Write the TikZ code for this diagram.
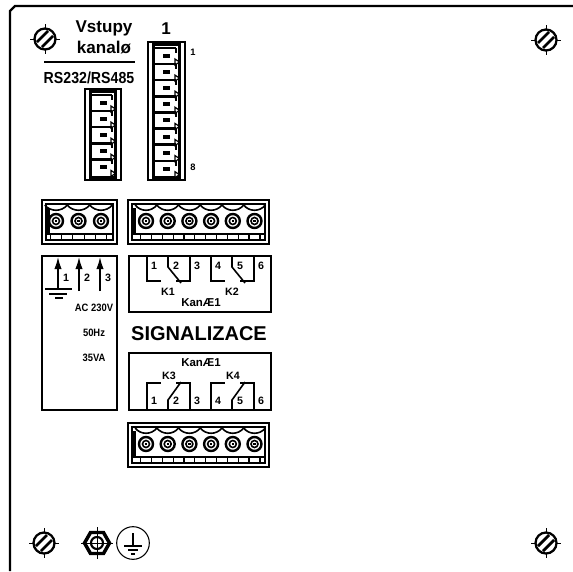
\documentclass[tikz,border=0pt]{standalone}
\usepackage{fontspec}
\setmainfont{Liberation Sans}
\usetikzlibrary{arrows.meta,positioning}

% screw head with slot
\newcommand{\screw}[2]{%
  \begin{scope}[shift={(#1,#2)}]
    \draw[thin line] (-15,0) -- (15,0) (0,-15) -- (0,15);
    \fill[white] (0,0) circle (10);
    \draw[line width=1.7pt] (0,0) circle (10.5);
    \draw[line width=2.1pt] (-8,3) -- (3,-8) (-3,8) -- (8,-3);
  \end{scope}}

% horizontal terminal block: x, y, width, first, pitch, last index
\newcommand{\hblock}[6]{%
  \begin{scope}[shift={(#1,#2)}]
    \draw[thick line] (0,0) rectangle (#3,44);
    \draw[mid line] (4,4) rectangle ({#3-4},40);
    \draw[mid line] (4,34) -- ({#3-4},34);
    \fill (4,8) rectangle (8,34);
    \foreach \i in {0,...,#6} {
      \pgfmathsetmacro{\cx}{#4+\i*#5}
      \draw[line width=1.2pt] ({\cx-#5/2},5) .. controls ({\cx-#5/4},12) and ({\cx+#5/4},12) .. ({\cx+#5/2},5);
      \draw[line width=1.8pt] (\cx,21) circle (7);
      \draw[line width=1.2pt] (\cx,21) circle (3.5);
      \fill (\cx-1.2,19.8) rectangle (\cx+1.2,22.2);
      \draw[mid line] ({\cx-#5/4},34) -- ({\cx-#5/4},40) ({\cx+#5/4},34) -- ({\cx+#5/4},40);
    }
  \end{scope}}

% vertical terminal block: x, y, width, height, first centre, last index
\newcommand{\vblock}[6]{%
  \begin{scope}[shift={(#1,#2)}]
    \draw[thick line] (0,0) rectangle (#3,#4);
    \draw[thick line] (5.5,2.5) rectangle ({#3-5.5},{#4-2.5});
    \foreach \i in {0,...,#6} {
      \pgfmathsetmacro{\cy}{#5+\i*16.1}
      \draw[line width=1.8pt] (6,{\cy-8}) -- ({#3-9},{\cy-8});
      \draw[line width=1.8pt] ({#3-9},{\cy-8}) -- ({#3-9},{\cy-3});
      \fill ({#3/2-3.5},\cy-2) rectangle ({#3/2+3.5},\cy+2);
      \draw[mid line,fill=white] ({#3-10},\cy+3) -- ({#3-5.5},\cy+6) -- ({#3-10},\cy+9) -- cycle;
    }
  \end{scope}}

\begin{document}
\begin{tikzpicture}[x=0.75pt,y=-0.75pt,font=\bfseries,
    thin line/.style={line width=0.6pt},
    mid line/.style={line width=0.9pt},
    thick line/.style={line width=1.6pt},
    box line/.style={line width=1.2pt},
    label/.style={inner sep=0pt,font=\bfseries\fontsize{8}{8}\selectfont},
    small label/.style={inner sep=0pt,xscale=0.88,font=\bfseries\fontsize{8}{8}\selectfont},
    big label/.style={inner sep=0pt,font=\bfseries\fontsize{12.8}{13}\selectfont},
    supply/.style={line width=1.2pt,-{Latex[length=9pt,width=5.5pt]}}]

  \useasboundingbox (0,0) rectangle (573,571);

  % panel edge
  \draw[thick line] (10,571) -- (10,11) -- (15,6) -- (573,6);

  % screws
  \screw{45}{39}
  \screw{546}{40}
  \screw{44}{543}
  \screw{546}{543}

  % heading
  \node[big label] (vstupy) at (104,28) {Vstupy};
  \node[big label] (kanalo) at (104,48) {kanalø};
  \node[big label] (one) at (166,29) {1};
  \draw[box line] (44,62) -- (135,62);
  \node[inner sep=0pt,xscale=0.885,font=\bfseries\fontsize{12}{12}\selectfont] (rs) at (89,78) {RS232/RS485};

  % vertical blocks
  \vblock{148}{42}{37}{138}{14}{7}
  \vblock{85}{89}{36}{91}{14}{4}
  \node[label,font=\bfseries\fontsize{7}{7}\selectfont] (top) at (193,52) {1};
  \node[label,font=\bfseries\fontsize{7}{7}\selectfont] (bottom) at (193,167) {8};

  % horizontal blocks
  \hblock{42}{200}{75}{14}{22.5}{2}
  \hblock{128}{200}{141}{18}{21.7}{5}
  \hblock{128}{423}{141}{18}{21.7}{5}

  % supply box
  \draw[box line] (42,256) rectangle (117,410);
  \coordinate (g) at (58,289);
  \draw[supply] (g) -- (58,257);
  \draw[supply] (79,291) -- (79,257);
  \draw[supply] (100,291) -- (100,257);
  \draw[box line] (45,289) -- (72,289) (49,294) -- (67,294) (55,298) -- (63,298);
  \foreach \num/\x in {1/66,2/87,3/108} \node[label] (p\num) at (\x,278) {\num};
  \node[small label] (ac) at (94,308) {AC 230V};
  \node[small label] (hz) at (94,333) {50Hz};
  \node[small label] (va) at (94,358) {35VA};

  % upper relay box
  \draw[box line] (129,256) rectangle (271,312);
  \foreach \dx/\k in {0/K1,64/K2} {
    \begin{scope}[xshift=\dx*0.75pt]
      \draw[box line] (147,256) -- (147,281) -- (161,281);
      \draw[box line] (168,256) -- (168,267) -- (181,283);
      \draw[box line] (190,256) -- (190,281) -- (176,281);
      \node[label] at (168,292) {\k};
    \end{scope}}
  \foreach \num/\x in {1/154,2/176,3/197,4/218,5/240,6/261} \node[label] (a\num) at (\x,266) {\num};
  \node[inner sep=0pt,font=\bfseries\fontsize{8.6}{9}\selectfont] (kan1) at (201,303) {KanÆ1};

  \node[inner sep=0pt,font=\bfseries\fontsize{15}{15}\selectfont] (sig) at (199,334) {SIGNALIZACE};

  % lower relay box
  \draw[box line] (129,353) rectangle (271,410);
  \foreach \dx/\k in {0/K3,64/K4} {
    \begin{scope}[xshift=\dx*0.75pt]
      \draw[box line] (147,410) -- (147,383) -- (161,383);
      \draw[box line] (168,410) -- (168,400) -- (181,382);
      \draw[box line] (190,410) -- (190,383) -- (176,383);
      \node[label] at (169,376) {\k};
    \end{scope}}
  \foreach \num/\x in {1/154,2/176,3/197,4/218,5/240,6/261} \node[label] (b\num) at (\x,401) {\num};
  \node[inner sep=0pt,font=\bfseries\fontsize{8.6}{9}\selectfont] (kan2) at (201,363) {KanÆ1};

  % earth stud
  \begin{scope}[shift={(97,543)}]
    \draw[thin line] (-16,0) -- (16,0) (0,-16) -- (0,16);
    \draw[line width=2.6pt] (-12.5,0) -- (-6.5,-10.5) -- (6.5,-10.5) -- (12.5,0) -- (6.5,10.5) -- (-6.5,10.5) -- cycle;
    \draw[line width=1.6pt] (0,0) circle (6);
  \end{scope}

  % earth mark
  \node[circle,draw,line width=0.8pt,minimum size=24.5pt,inner sep=0pt] (earth) at (133,543) {};
  \draw[mid line] (133,533) -- (133,546);
  \draw[mid line] (124,546) -- (142,546);
  \draw[mid line] (128,550) -- (138,550);
  \draw[mid line] (131,554) -- (135,554);
\end{tikzpicture}
\end{document}
